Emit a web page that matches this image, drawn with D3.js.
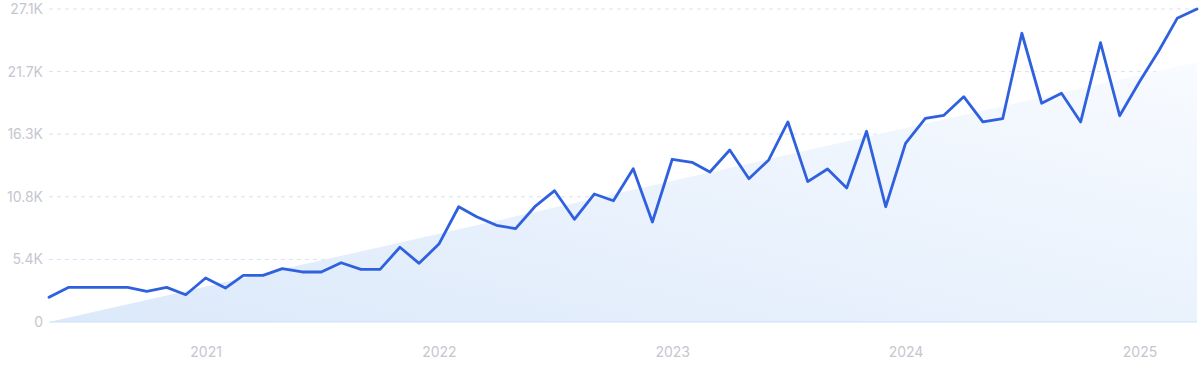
<!DOCTYPE html>
<html>
<head>
<meta charset="utf-8">
<script src="https://cdn.jsdelivr.net/npm/d3@7"></script>
<style>
  html, body { margin: 0; padding: 0; background: #fff; }
  svg { display: block; font-family: Inter, "Open Sans", sans-serif; }
</style>
</head>
<body>
<svg id="chart" width="1200" height="371"></svg>
<script>
// ========= Data =========
const firstMonth = "2020-05";
const lastMonth = "2025-04";
const searches = [
  2140, 3000, 3000, 3000, 3000, 2660, 3000, 2360, 3810, 2940,
  4040, 4040, 4620, 4330, 4330, 5130, 4560, 4560, 6470, 5080,
  6750, 9980, 9120, 8370, 8080, 10040, 11370, 8890, 11080, 10500,
  13270, 8660, 14090, 13830, 12990, 14890, 12410, 14030, 17320, 12150,
  13250, 11600, 16510, 9980, 15470, 17640, 17900, 19510, 17320, 17600,
  25000, 18940, 19800, 17320, 24180, 17860, 20800, 23550, 26290, 27100
];
// trend area (start / end of the shaded wedge)
const trendMonths = ["2020-05", "2025-04"];
const trendValues = [0, 22500];

const yTicks = [0, 5420, 10840, 16260, 21680, 27100];
const yTickLabels = ["0", "5.4K", "10.8K", "16.3K", "21.7K", "27.1K"];
const xTickYears = ["2021", "2022", "2023", "2024", "2025"];

// ========= Setup =========
const parseMonth = d3.timeParse("%Y-%m");
const months = d3.timeMonth.range(parseMonth(firstMonth), d3.timeMonth.offset(parseMonth(lastMonth), 1));
const series = months.map((d, i) => ({ date: d, value: searches[i] }));
const trend = trendMonths.map((m, i) => ({ date: parseMonth(m), value: trendValues[i] }));

const width = 1200, height = 371;
const margin = { top: 9, right: 3, bottom: 49, left: 49 };
const innerW = width - margin.left - margin.right;
const innerH = height - margin.top - margin.bottom;

const svg = d3.select("#chart");

const x = d3.scaleTime()
  .domain(d3.extent(months))
  .range([0, innerW]);

const y = d3.scaleLinear()
  .domain([0, d3.max(yTicks)])
  .range([innerH, 0]);

const defs = svg.append("defs");
const grad = defs.append("linearGradient")
  .attr("id", "trendFill")
  .attr("x1", "0%").attr("y1", "100%")
  .attr("x2", "100%").attr("y2", "0%");
grad.append("stop").attr("offset", "0%").attr("stop-color", "#dce9fa");
grad.append("stop").attr("offset", "100%").attr("stop-color", "#f8fbff");

const g = svg.append("g")
  .attr("transform", `translate(${margin.left},${margin.top})`);

// gridlines
g.append("g")
  .selectAll("line")
  .data(yTicks.slice(1))
  .join("line")
  .attr("x1", 0)
  .attr("x2", innerW)
  .attr("y1", d => y(d))
  .attr("y2", d => y(d))
  .attr("stroke", "#d4e3f6")
  .attr("stroke-width", 1)
  .attr("stroke-dasharray", "4,4");

// trend area
g.append("path")
  .datum(trend)
  .attr("fill", "url(#trendFill)")
  .attr("d", d3.area()
    .x(d => x(d.date))
    .y0(innerH)
    .y1(d => y(d.value)));

// baseline
g.append("line")
  .attr("x1", 0)
  .attr("x2", innerW)
  .attr("y1", y(0))
  .attr("y2", y(0))
  .attr("stroke", "#c9e1f8")
  .attr("stroke-width", 1.2);

// main line
g.append("path")
  .datum(series)
  .attr("fill", "none")
  .attr("stroke", "#2f61df")
  .attr("stroke-width", 2.8)
  .attr("stroke-linejoin", "round")
  .attr("stroke-linecap", "round")
  .attr("d", d3.line()
    .x(d => x(d.date))
    .y(d => y(d.value)));

// Y axis
const yAxis = g.append("g")
  .call(d3.axisLeft(y)
    .tickValues(yTicks)
    .tickSize(0)
    .tickPadding(6)
    .tickFormat((d, i) => yTickLabels[i]));
yAxis.select(".domain").remove();
yAxis.selectAll("text")
  .attr("fill", "#c6c6cf")
  .attr("font-size", 14)
  .attr("font-family", "Inter, sans-serif");

// X axis
const xAxis = g.append("g")
  .attr("transform", `translate(0,${innerH})`)
  .call(d3.axisBottom(x)
    .tickValues(xTickYears.map(yr => parseMonth(yr + "-01")))
    .tickSize(0)
    .tickPadding(25)
    .tickFormat(d3.timeFormat("%Y")));
xAxis.select(".domain").remove();
xAxis.selectAll("text")
  .attr("fill", "#c6c6cf")
  .attr("font-size", 14)
  .attr("font-family", "Inter, sans-serif");
</script>
</body>
</html>
